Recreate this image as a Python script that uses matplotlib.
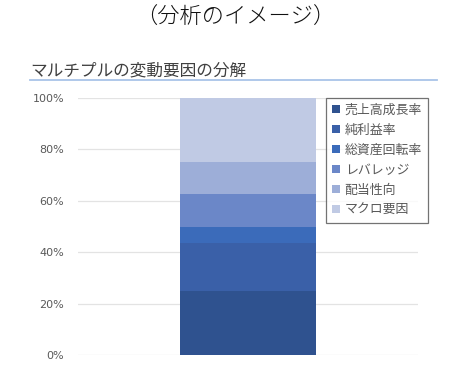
import matplotlib
matplotlib.use("Agg")
import matplotlib.pyplot as plt
from matplotlib.lines import Line2D

plt.rcParams['font.family'] = ['Noto Sans CJK JP', 'DejaVu Sans']

categories = ["売上高成長率", "純利益率", "総資産回転率", "レバレッジ", "配当性向", "マクロ要因"]
values = [25.0, 18.75, 6.25, 12.5, 12.5, 25.0]
colors = ["#2F528F", "#3A60A8", "#3B6BBA", "#6B87C8", "#9DAED8", "#C0CAE4"]
yticks = [0, 20, 40, 60, 80, 100]
ytick_labels = ["0%", "20%", "40%", "60%", "80%", "100%"]

fig = plt.figure(figsize=(4.5, 3.67), dpi=100)
ax = fig.add_axes([78/450, 1-355/367, (418-78)/450, (355-98)/367])

bottom = 0
for name, v, c in zip(categories, values, colors):
    ax.bar([0], [v], bottom=bottom, width=0.4, color=c, label=name, zorder=3)
    bottom += v

ax.set_xlim(-0.5, 0.5)
ax.set_ylim(0, 100)
ax.set_yticks(yticks)
ax.set_yticklabels(ytick_labels, color="#595959", fontsize=8, family=['DejaVu Sans'])
ax.set_xticks([])
ax.tick_params(axis='y', length=0, pad=10)
for s in ax.spines.values():
    s.set_visible(False)
ax.yaxis.grid(True, color="#E3E3E3", linewidth=0.9, zorder=0)

leg = ax.legend(loc="upper left", bbox_to_anchor=(326/450, 1-98/367), bbox_transform=fig.transFigure,
                borderaxespad=0, frameon=True, fancybox=False, fontsize=9.3,
                handlelength=0.6, handleheight=0.6, handletextpad=0.4, labelspacing=0.54,
                borderpad=0.45, labelcolor="#595959")
leg.get_frame().set_edgecolor("#505050")
leg.get_frame().set_linewidth(0.9)
leg.set_zorder(5)

fig.text(235/450, 1-18/367, "（分析のイメージ）", ha="center", va="center", fontsize=16,
         color="#111111", fontweight="light")
fig.text(30/450, 1-71/367, "マルチプルの変動要因の分解", ha="left", va="center", fontsize=12, color="#404040")
fig.add_artist(Line2D([30/450, 437/450], [1-80/367, 1-80/367], transform=fig.transFigure,
                      color="#A9C4E8", linewidth=1.3))

fig.savefig("out.png", dpi=100)
